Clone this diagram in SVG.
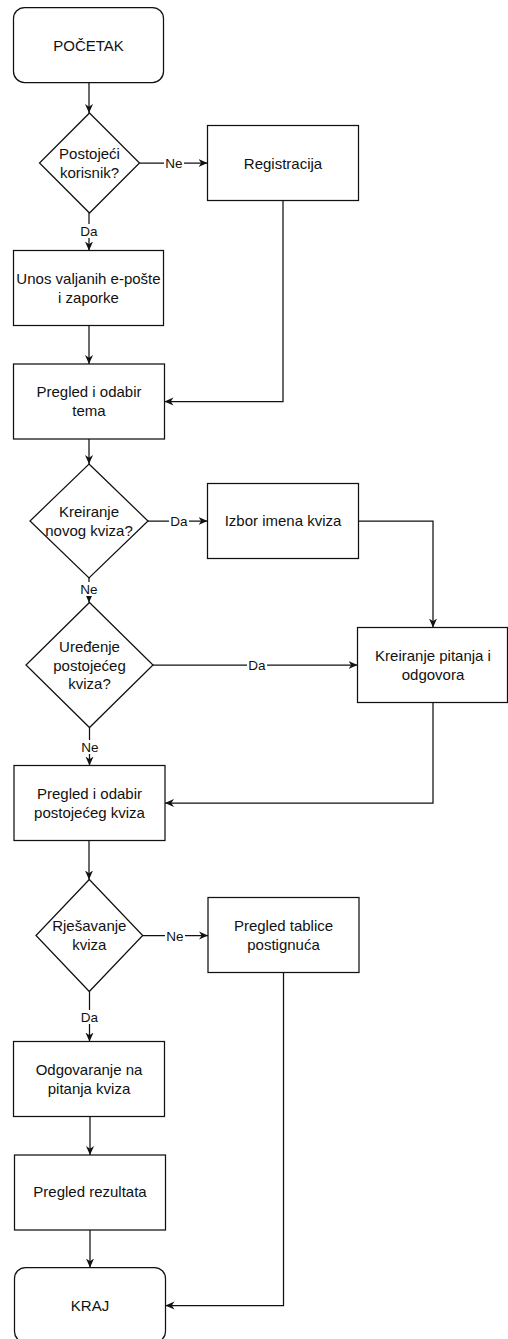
<svg xmlns="http://www.w3.org/2000/svg" width="508" height="1339" viewBox="0 0 508 1339">
<style>
.n{fill:#fff;stroke:#111;stroke-width:1.25}
.t{font-family:"Liberation Sans",Arial,sans-serif;font-size:15px;fill:#111;text-anchor:middle}
.e{fill:none;stroke:#111;stroke-width:1.25}
.lb{fill:#fff;stroke:none}
.l{font-family:"Liberation Sans",Arial,sans-serif;font-size:13.5px;fill:#111;text-anchor:middle}
</style>
<defs>
<marker id="arr" markerUnits="userSpaceOnUse" viewBox="0 0 10 10" refX="10" refY="5" markerWidth="9" markerHeight="9" orient="auto">
<path d="M0,0.5 L10,5 L0,9.5 L3,5 z" fill="#111"/>
</marker>
</defs>
<g id="connectors">
<path class="e" d="M89,82.5 V113" marker-end="url(#arr)"/>
<path class="e" d="M139.5,163 H207.5" marker-end="url(#arr)"/>
<path class="e" d="M89,213 V250.5" marker-end="url(#arr)"/>
<path class="e" d="M89,325.5 V364" marker-end="url(#arr)"/>
<path class="e" d="M283,200.5 V401.5 H164.5" marker-end="url(#arr)"/>
<path class="e" d="M89,439 V464" marker-end="url(#arr)"/>
<path class="e" d="M148,521 H207.5" marker-end="url(#arr)"/>
<path class="e" d="M358.5,521 H433 V627.5" marker-end="url(#arr)"/>
<path class="e" d="M89,578 V602.5" marker-end="url(#arr)"/>
<path class="e" d="M153,665 H357.5" marker-end="url(#arr)"/>
<path class="e" d="M89.5,727.5 V765.5" marker-end="url(#arr)"/>
<path class="e" d="M433,702.5 V803 H165" marker-end="url(#arr)"/>
<path class="e" d="M89,840.5 V879.5" marker-end="url(#arr)"/>
<path class="e" d="M142.7,935.5 H208" marker-end="url(#arr)"/>
<path class="e" d="M89.5,991.5 V1041.5" marker-end="url(#arr)"/>
<path class="e" d="M90,1116.5 V1155" marker-end="url(#arr)"/>
<path class="e" d="M90,1230 V1267.5" marker-end="url(#arr)"/>
<path class="e" d="M283.5,972.5 V1305.5 H165.5" marker-end="url(#arr)"/>
<rect class="lb" x="164" y="156" width="20" height="14"/>
<text class="l" x="174" y="168">Ne</text>
<rect class="lb" x="79" y="224" width="20" height="14"/>
<text class="l" x="89" y="236">Da</text>
<rect class="lb" x="169" y="514" width="20" height="14"/>
<text class="l" x="179" y="526">Da</text>
<rect class="lb" x="79" y="582" width="20" height="14"/>
<text class="l" x="89" y="594">Ne</text>
<rect class="lb" x="247" y="658" width="20" height="14"/>
<text class="l" x="257" y="670">Da</text>
<rect class="lb" x="80" y="740" width="20" height="14"/>
<text class="l" x="90" y="752">Ne</text>
<rect class="lb" x="165" y="928.5" width="20" height="14"/>
<text class="l" x="175" y="940.5">Ne</text>
<rect class="lb" x="79.5" y="1010" width="20" height="14"/>
<text class="l" x="89.5" y="1022">Da</text>
</g>
<g id="start">
<rect class="n" x="13.5" y="7.5" width="150" height="75" rx="11" ry="11"/>
<text class="t" x="88.5" y="50.5">POČETAK</text>
</g>
<g id="d1">
<path class="n" d="M89.5,113 L139.5,163 L89.5,213 L39.5,163 Z"/>
<text class="t" x="89.5" y="159">Postojeći</text>
<text class="t" x="89.5" y="178">korisnik?</text>
</g>
<g id="registracija">
<rect class="n" x="207.5" y="125.5" width="151" height="75"/>
<text class="t" x="283" y="168.5">Registracija</text>
</g>
<g id="unos">
<rect class="n" x="13.5" y="250.5" width="150" height="75"/>
<text class="t" x="88.5" y="284">Unos valjanih e-pošte</text>
<text class="t" x="88.5" y="303">i zaporke</text>
</g>
<g id="tema">
<rect class="n" x="13.5" y="364" width="151" height="75"/>
<text class="t" x="89" y="397">Pregled i odabir</text>
<text class="t" x="89" y="416">tema</text>
</g>
<g id="d2">
<path class="n" d="M89,464 L148,521 L89,578 L30,521 Z"/>
<text class="t" x="89" y="517">Kreiranje</text>
<text class="t" x="89" y="536">novog kviza?</text>
</g>
<g id="izbor">
<rect class="n" x="207.5" y="483.5" width="151" height="75"/>
<text class="t" x="283" y="525.5">Izbor imena kviza</text>
</g>
<g id="d3">
<path class="n" d="M89.5,602.5 L153,665 L89.5,727.5 L26,665 Z"/>
<text class="t" x="89.5" y="652">Uređenje</text>
<text class="t" x="89.5" y="670.5">postojećeg</text>
<text class="t" x="89.5" y="689">kviza?</text>
</g>
<g id="kreiranje">
<rect class="n" x="357.5" y="627.5" width="150" height="75"/>
<text class="t" x="433" y="661">Kreiranje pitanja i</text>
<text class="t" x="433" y="680">odgovora</text>
</g>
<g id="postojeci">
<rect class="n" x="14" y="765.5" width="151" height="75"/>
<text class="t" x="89.5" y="799">Pregled i odabir</text>
<text class="t" x="89.5" y="818">postojećeg kviza</text>
</g>
<g id="d4">
<path class="n" d="M89.3,879.5 L142.7,935.5 L89.3,991.5 L36,935.5 Z"/>
<text class="t" x="89.3" y="931">Rješavanje</text>
<text class="t" x="89.3" y="950">kviza</text>
</g>
<g id="tablica">
<rect class="n" x="208" y="897.5" width="151" height="75"/>
<text class="t" x="283.5" y="931">Pregled tablice</text>
<text class="t" x="283.5" y="950">postignuća</text>
</g>
<g id="odgovaranje">
<rect class="n" x="13.5" y="1041.5" width="151" height="75"/>
<text class="t" x="89" y="1075">Odgovaranje na</text>
<text class="t" x="89" y="1094">pitanja kviza</text>
</g>
<g id="rezultati">
<rect class="n" x="14.5" y="1155" width="151" height="75"/>
<text class="t" x="90" y="1197">Pregled rezultata</text>
</g>
<g id="end">
<rect class="n" x="14.5" y="1267.5" width="151" height="75" rx="11" ry="11"/>
<text class="t" x="90" y="1310.5">KRAJ</text>
</g>
</svg>
